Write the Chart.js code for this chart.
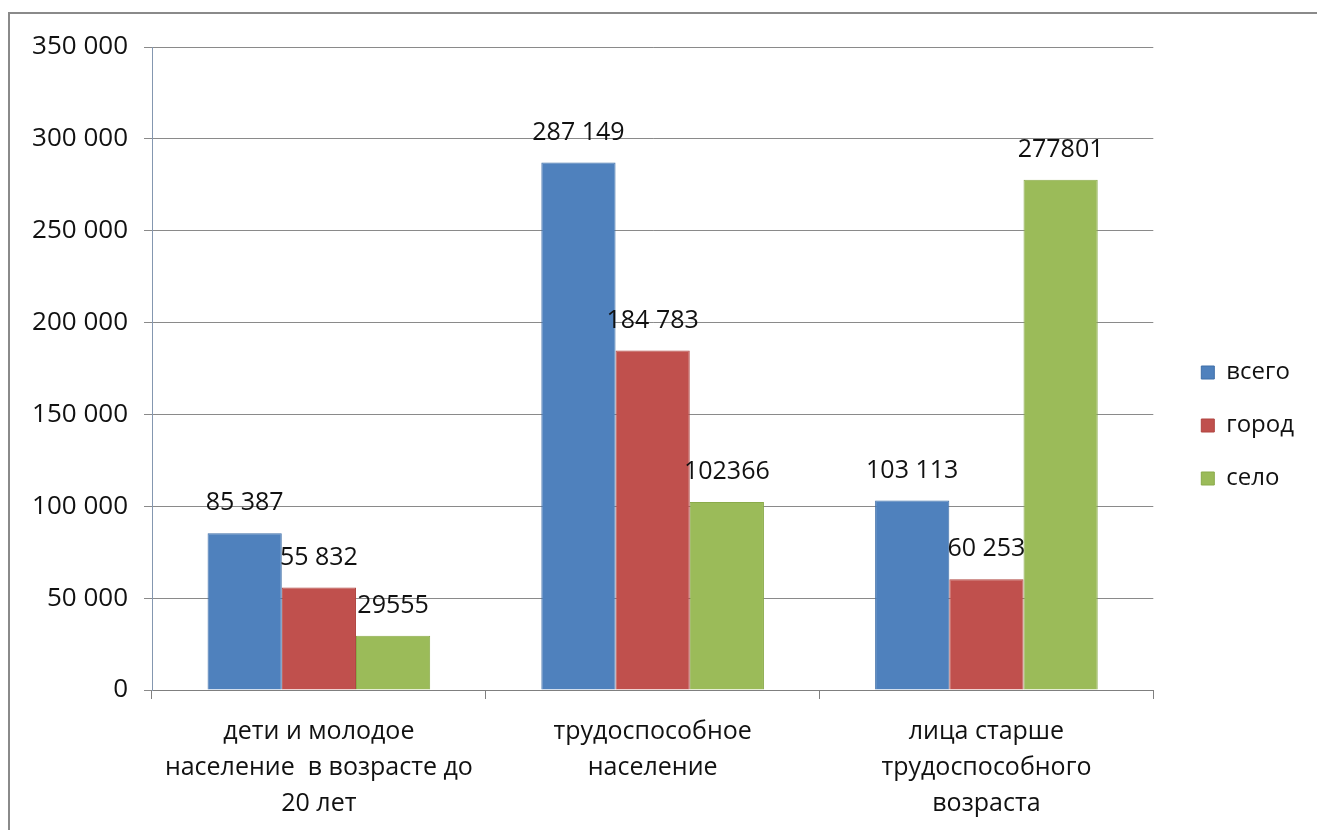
<!DOCTYPE html>
<html>
<head>
<meta charset="utf-8">
<script src="https://cdn.jsdelivr.net/npm/chart.js@4.4.1/dist/chart.umd.min.js"></script>
<style>
  html, body { margin: 0; padding: 0; background: #fff; overflow: hidden; }
  #wrap { position: relative; width: 1317px; height: 830px; overflow: hidden; background: #fff; }
  #frame { position: absolute; left: 8px; top: 12px; width: 1309px; height: 818px; border-top: 2px solid #8a8a8a; border-left: 2px solid #8a8a8a; box-sizing: border-box; }
  canvas { position: absolute; left: 0; top: 0; }
</style>
</head>
<body>
<div id="wrap">
  <div id="frame"></div>
  <canvas id="c" width="1317" height="830"></canvas>
</div>
<script>
const categories = [
  ["дети и молодое", "население  в возрасте до", "20 лет"],
  ["трудоспособное", "население"],
  ["лица старше", "трудоспособного", "возраста"]
];
const seriesNames = ["всего", "город", "село"];
const totalValues = [85387, 287149, 103113];
const cityValues = [55832, 184783, 60253];
const villageValues = [29555, 102366, 277801];
const labelSeparators = [" ", " ", ""];
const yTicks = [0, 50000, 100000, 150000, 200000, 250000, 300000, 350000];

const FONT = "'Open Sans', sans-serif";
const colors = ["#4F81BD", "#C0504D", "#9BBB59"];
const borders = ["#3f6fa8", "#b04541", "#8aab4a"];

function fmt(v, sep) {
  return String(v).replace(/\B(?=(\d{3})+(?!\d))/g, sep);
}

const valueLabels = {
  id: "valueLabels",
  afterDatasetsDraw(chart) {
    const ctx = chart.ctx;
    ctx.save();
    ctx.font = "25px " + FONT;
    ctx.fillStyle = "#111";
    ctx.textAlign = "center";
    ctx.textBaseline = "middle";
    chart.data.datasets.forEach((ds, di) => {
      const meta = chart.getDatasetMeta(di);
      meta.data.forEach((el, i) => {
        ctx.fillText(fmt(ds.data[i], labelSeparators[di]), el.x, el.y - 30);
      });
    });
    ctx.restore();
  }
};

const legendShift = {
  id: "legendShift",
  afterLayout(chart) {
    const lg = chart.legend;
    lg.left += 19; lg.right += 19;
    lg.top -= 13; lg.bottom -= 13;
  }
};

const datasetsArr = [totalValues, cityValues, villageValues].map((d, i) => ({
  label: seriesNames[i],
  data: d,
  backgroundColor: colors[i],
  borderColor: borders[i],
  borderWidth: 1
}));

new Chart(document.getElementById("c"), {
  type: "bar",
  data: { labels: categories, datasets: datasetsArr },
  options: {
    responsive: false,
    animation: false,
    devicePixelRatio: 1,
    layout: { padding: { top: 47, right: 32, bottom: 0, left: 0 } },
    datasets: { bar: { categoryPercentage: 0.667, barPercentage: 1.0 } },
    plugins: {
      legend: {
        position: "right",
        align: "center",
        labels: {
          boxWidth: 13,
          boxHeight: 13,
          padding: 29,
          color: "#111",
          font: { family: FONT, size: 24 }
        }
      },
      tooltip: { enabled: false }
    },
    scales: {
      x: {
        offset: true,
        grid: { display: true, drawOnChartArea: false, drawTicks: true, tickLength: 9, color: "#7f7f7f", offset: true },
        border: { display: true, color: "#7f7f7f", width: 1 },
        ticks: { color: "#111", font: { family: FONT, size: 25, lineHeight: 1.44 }, padding: 15, maxRotation: 0, autoSkip: false },
        afterFit(scale) { scale.height = 140; }
      },
      y: {
        min: 0,
        max: 350000,
        afterBuildTicks(scale) { scale.ticks = yTicks.map(v => ({ value: v })); },
        grid: { color: "#8a8a8a", tickLength: 8, drawTicks: true },
        border: { display: true, color: "#8497b0", width: 1 },
        ticks: {
          color: "#111",
          font: { family: FONT, size: 26 },
          padding: 16,
          callback: v => fmt(v, " ")
        },
        afterFit(scale) { scale.width = 152; }
      }
    }
  },
  plugins: [valueLabels, legendShift]
});
</script>
</body>
</html>
